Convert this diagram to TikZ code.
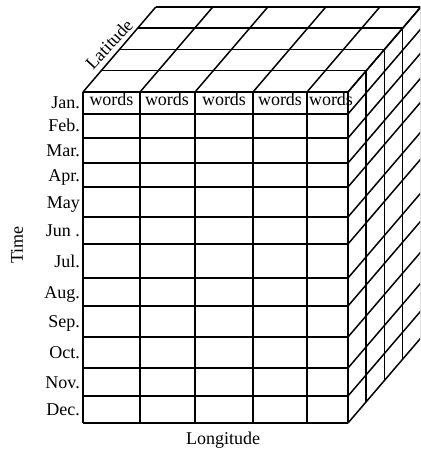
\documentclass[tikz,border=0pt]{standalone}
\usepackage{fontspec}
\setmainfont{Liberation Serif}
\begin{document}
\begin{tikzpicture}[x=1pt,y=-1pt,
  gridline/.style={line width=1.5pt, black},
  lbl/.style={font=\fontsize{18}{20}\selectfont, inner sep=0pt},
  month/.style={lbl, anchor=base east},
  cell/.style={lbl, anchor=base},
]
\useasboundingbox (0,0) rectangle (420,449);
\clip (0,0) rectangle (420,449);
\def\dx{18.2}\def\dy{21.25}
% top face
\foreach \k in {1,...,4}
  \draw[gridline] ({83+\k*\dx},{92-\k*\dy}) -- ({348+\k*\dx},{92-\k*\dy});
\foreach \x in {83,140,195,253,307,348}
  \draw[gridline] (\x,92) -- ++({4*\dx},{-4*\dy});
% right face
\foreach \k in {1,...,4}
  \draw[gridline] ({348+\k*\dx},{92-\k*\dy}) -- ({348+\k*\dx},{423-\k*\dy});
\foreach \y in {92,114,138,163,187,217,244,278,306,337,368,396,423}
  \draw[gridline] (348,\y) -- ++({4*\dx},{-4*\dy});
% front face
\foreach \x in {83,140,195,253,307,348}
  \draw[gridline] (\x,92) -- (\x,423);
\foreach \y in {92,114,138,163,187,217,244,278,306,337,368,396,423}
  \draw[gridline] (83,\y) -- (348,\y);
% cell texts
\node[cell] (w1) at (111.5,106) {words};
\node[cell] (w2) at (167,106) {words};
\node[cell] (w3) at (224,106) {words};
\node[cell] (w4) at (280,106) {words};
\node[cell] (w5) at (331,106) {words};
% months
\node[month] (m1) at (80,109) {Jan.};
\node[month] (m2) at (80,132) {Feb.};
\node[month] (m3) at (80,156.5) {Mar.};
\node[month] (m4) at (80,181) {Apr.};
\node[month] (m5) at (80,208) {May};
\node[month] (m6) at (80,236.5) {Jun .};
\node[month] (m7) at (80,267) {Jul.};
\node[month] (m8) at (80,298) {Aug.};
\node[month] (m9) at (80,327.5) {Sep.};
\node[month] (m10) at (80,358.5) {Oct.};
\node[month] (m11) at (80,388) {Nov.};
\node[month] (m12) at (80,415.5) {Dec.};
% axis labels
\node[lbl, rotate=90] (time) at (17,245) {Time};
\node[lbl] (lon) at (223,440) {Longitude};
\node[lbl, rotate=47] (lat) at (109,44) {Latitude};
\end{tikzpicture}
\end{document}
